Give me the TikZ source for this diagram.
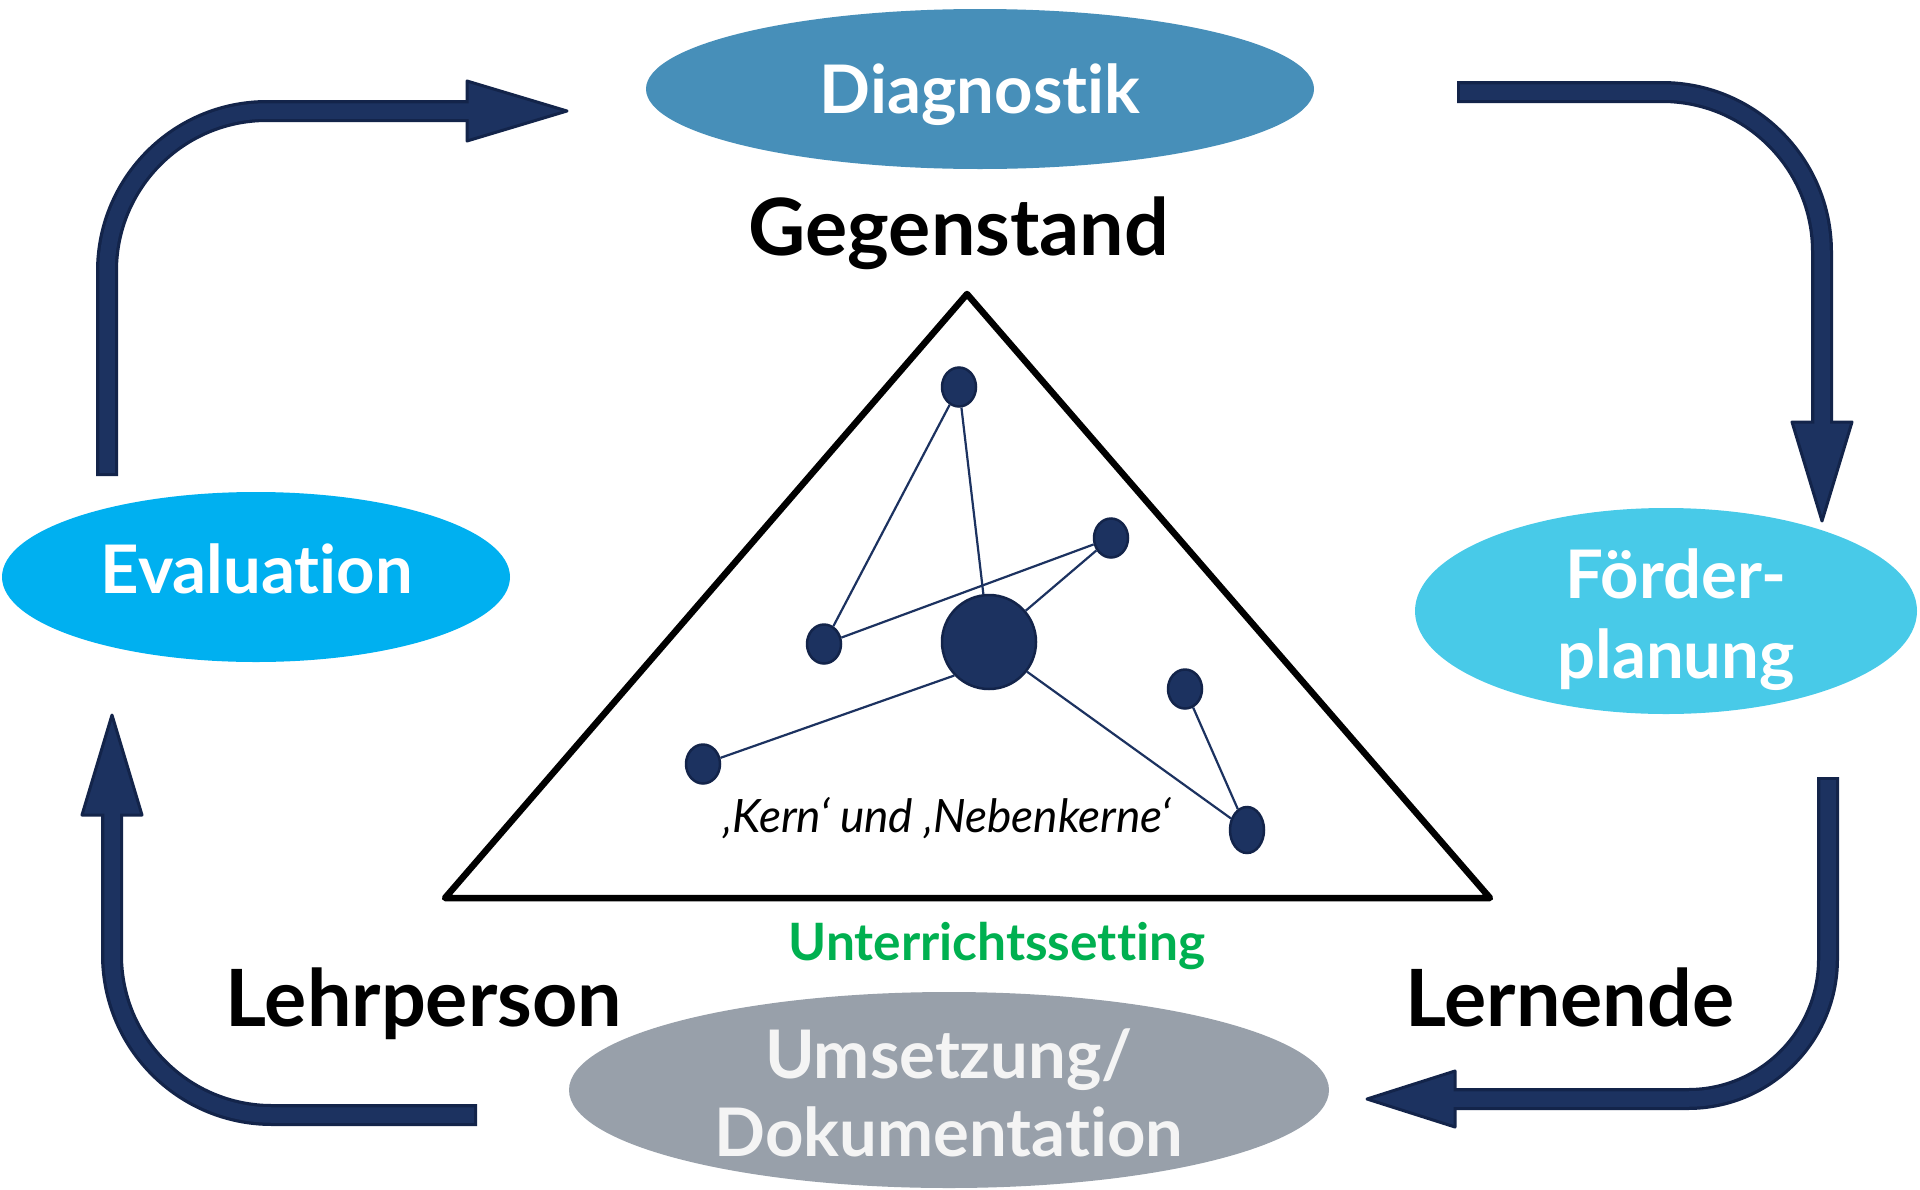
\documentclass[tikz,border=0pt]{standalone}
\usepackage{fontspec}
\setmainfont{Lato}[Ligatures=NoCommon]
\usetikzlibrary{shapes.geometric}
\definecolor{navy}{HTML}{1C3260}
\definecolor{navydark}{HTML}{13244A}
\definecolor{diagc}{HTML}{478FB9}
\definecolor{evalc}{HTML}{00B0F0}
\definecolor{foerdc}{HTML}{48CAE8}
\definecolor{umsc}{HTML}{98A0AA}
\definecolor{greenc}{HTML}{00B050}
\definecolor{offwhite}{HTML}{F4F4F4}
\tikzset{
  ell/.style={ellipse, inner sep=0pt, draw=none},
  wtxt/.style={inner sep=0pt, text=white, font=\fontsize{67}{80}\selectfont\bfseries, align=center},
  lbl/.style={inner sep=0pt, font=\fontsize{79}{88}\selectfont\bfseries, text=black},
  dot/.style={ellipse, inner sep=0pt, fill=navy, draw=navydark, line width=2.5pt},
  link/.style={draw=navy, line width=2.2pt},
  shaftout/.style={draw=navydark, line width=22pt, rounded corners=160pt},
  shaftin/.style={draw=navy, line width=15.5pt, rounded corners=160pt},
  headst/.style={fill=navy, draw=navydark, line width=3pt, line join=round},
}
\begin{document}
\begin{tikzpicture}[x=1pt,y=-1pt]
\useasboundingbox (0,0) rectangle (1920,1189);
\clip (0,0) rectangle (1920,1189);
\fill[white] (0,0) rectangle (1920,1189);

% ellipses
\node[ell, fill=diagc, minimum width=668pt, minimum height=160pt] (diag) at (980,89) {};
\node[ell, fill=evalc, minimum width=508pt, minimum height=170pt] (eval) at (256,577) {};
\node[ell, fill=foerdc, minimum width=502pt, minimum height=206pt] (foerd) at (1666,611) {};
\node[ell, fill=umsc, minimum width=760pt, minimum height=196pt] (ums) at (949,1090) {};
\node[wtxt] (diagt) at (980,95) {Diagnostik};
\node[wtxt] (evalt) at (257,569) {Evaluation};
\node[wtxt, font=\fontsize{67}{80}\selectfont\bfseries] (foerdt) at (1676,620) {Förder-\\planung};
\node[wtxt, text=offwhite, font=\fontsize{67}{78}\selectfont\bfseries] (umst) at (949,1093) {Umsetzung/\\Dokumentation};

% labels
\node[lbl] (gegen) at (959,233) {Gegenstand};
\node[lbl, anchor=base] (lehr) at (424,1026) {Lehrperson};
\node[lbl, anchor=base] (lern) at (1570,1026) {Lernende};
\node[inner sep=0pt, anchor=base, text=greenc, font=\fontsize{51.5}{56}\selectfont\bfseries] (setting) at (997,960) {Unterrichtssetting};

% triangle
\coordinate (tA) at (967,294);
\coordinate (tB) at (445,898);
\coordinate (tC) at (1490,898);
\draw[line width=6.5pt, line join=round] (tA) -- (tB) -- (tC) -- cycle;

% dots
\node[dot, minimum width=34pt, minimum height=39pt] (dtop) at (959,387) {};
\node[dot, minimum width=34pt, minimum height=39pt] (dright) at (1111,538) {};
\node[dot, minimum width=34pt, minimum height=39pt] (dleft) at (824,644) {};
\node[dot, minimum width=94pt, minimum height=94pt] (core) at (989,642) {};
\node[dot, minimum width=34pt, minimum height=39pt] (dfar) at (703,764) {};
\node[dot, minimum width=34pt, minimum height=39pt] (dlow) at (1185,689) {};
\node[dot, minimum width=34pt, minimum height=46pt] (dbr) at (1247,830) {};

\draw[link] (dtop) -- (dleft);
\draw[link] (dtop) -- (core);
\draw[link] (dleft) -- (dright);
\draw[link] (dright) -- (core);
\draw[link] (core.224) -- (dfar);
\draw[link] (core.-38) -- (dbr);
\draw[link] (dlow) -- (dbr);

\node[inner sep=0pt, font=\fontsize{46}{52}\selectfont\itshape] (kern) at (947,818) {‚Kern‘ und ‚Nebenkerne‘};

% arrow coordinates
\coordinate (a1s) at (107,476);
\coordinate (a1b) at (467,111);
\coordinate (a1t) at (567,111);
\coordinate (a2s) at (1457,92);
\coordinate (a2b) at (1822,422);
\coordinate (a2t) at (1822,521);
\coordinate (a3s) at (1828,777);
\coordinate (a3b) at (1455,1099);
\coordinate (a3t) at (1367,1099);
\coordinate (a4s) at (477,1115);
\coordinate (a4b) at (112,815);
\coordinate (a4t) at (112,715);

% arrow 1: Evaluation -> Diagnostik
\draw[shaftout] (a1s) |- (a1b);
\draw[headst] ([yshift=-30pt]a1b) -- (a1t) -- ([yshift=30pt]a1b) -- cycle;
\draw[shaftin, shorten <=3pt, shorten >=-6pt] (a1s) |- (a1b);

% arrow 2: Diagnostik -> Foerderplanung
\draw[shaftout] (a2s) -| (a2b);
\draw[headst] ([xshift=-30pt]a2b) -- (a2t) -- ([xshift=30pt]a2b) -- cycle;
\draw[shaftin, shorten <=3pt, shorten >=-6pt] (a2s) -| (a2b);

% arrow 3: Foerderplanung -> Umsetzung
\draw[shaftout, rounded corners=140pt] (a3s) |- (a3b);
\draw[headst] ([yshift=-28pt]a3b) -- (a3t) -- ([yshift=28pt]a3b) -- cycle;
\draw[shaftin, rounded corners=140pt, shorten <=3pt, shorten >=-6pt] (a3s) |- (a3b);

% arrow 4: Umsetzung -> Evaluation
\draw[shaftout] (a4s) -| (a4b);
\draw[headst] ([xshift=-30pt]a4b) -- (a4t) -- ([xshift=30pt]a4b) -- cycle;
\draw[shaftin, shorten <=3pt, shorten >=-6pt] (a4s) -| (a4b);
\end{tikzpicture}
\end{document}
